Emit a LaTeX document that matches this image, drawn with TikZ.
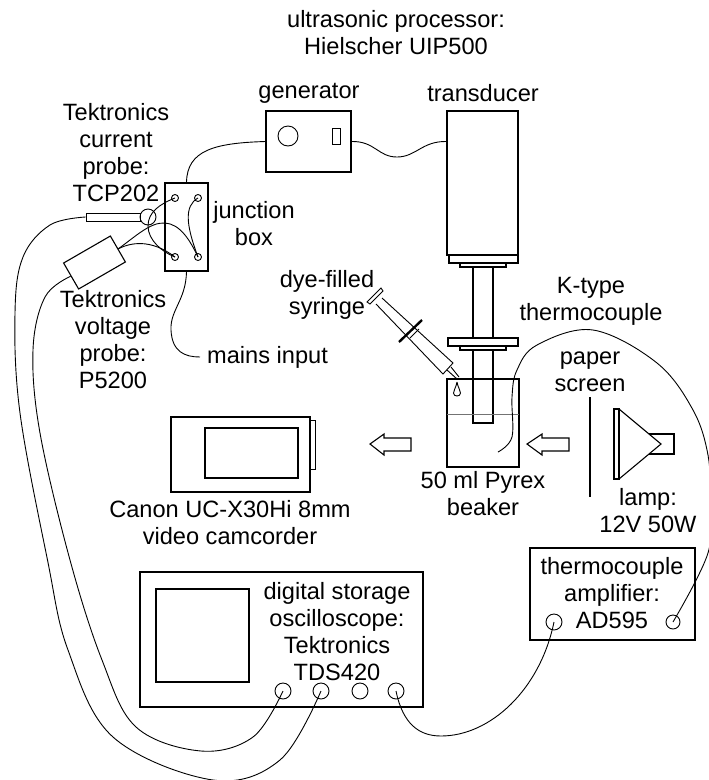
\documentclass[tikz,border=0pt]{standalone}
\usepackage{fontspec}
\setmainfont{Liberation Sans}
\usepackage{xcolor}
\definecolor{waterline}{gray}{0.45}
\tikzset{
	box/.style={draw=black, line width=1.1pt, inner sep=0pt, rectangle},
	port/.style={draw=black, line width=0.9pt, circle, inner sep=0pt, minimum size=16pt},
	terminal/.style={draw=black, line width=0.9pt, circle, inner sep=0pt, minimum size=7pt},
	wire/.style={black, line width=0.9pt},
	part/.style={black, line width=1.1pt},
	lbl/.style={font=\fontsize{23.6}{27}\selectfont, align=center, inner sep=0pt}
}

\begin{document}
\begin{tikzpicture}[x=1pt, y=-1pt]
	\useasboundingbox (0,0) rectangle (709,780);

	% Labels
	\node[lbl] (ultrasonic) at (396,33) {ultrasonic processor:\\Hielscher UIP500};
	\node[lbl] (genlabel) at (309,93) {generator};
	\node[lbl] (translabel) at (483,93) {transducer};
	\node[lbl] (currentlabel) at (116,153) {Tektronics\\current\\probe:\\TCP202};
	\node[lbl] (junctionlabel) at (254,224) {junction\\box};
	\node[lbl] (voltagelabel) at (113,340) {Tektronics\\voltage\\probe:\\P5200};
	\node[lbl] (syringelabel) at (327,295) {dye-filled\\syringe};
	\node[lbl, anchor=west, inner xsep=7pt] (mainslabel) at (200,357) {mains input};
	\node[lbl] (klabel) at (591,301) {K-type\\thermocouple};
	\node[lbl] (screenlabel) at (590,372) {paper\\screen};
	\node[lbl] (lamplabel) at (648,511) {lamp:\\12V 50W};
	\node[lbl] (beakerlabel) at (483,494) {50 ml Pyrex\\beaker};
	\node[lbl] (camlabel) at (230,523) {Canon UC-X30Hi 8mm\\video camcorder};
	\node[lbl] (scopelabel) at (337,632) {digital storage\\oscilloscope:\\Tektronics\\TDS420};
	\node[lbl] (amplabel) at (612,593) {thermocouple\\amplifier:\\AD595};

	% Generator and transducer
	\node[box, minimum width=85pt, minimum height=61pt] (generator) at (308.5,141.5) {};
	\node[port, minimum size=20pt] (knob) at (288,136) {};
	\node[box, line width=0.9pt, minimum width=8pt, minimum height=16pt] (switch) at (336,136) {};
	\node[box, minimum width=71pt, minimum height=144pt] (transducer) at (482.5,183) {};
	\draw[part] (449,255) rectangle (518,263);
	\draw[part] (460,263) rectangle (506,267);

	% Horn and beaker
	\draw[part] (473,267) -- (473,338);
	\draw[part] (493,267) -- (493,338);
	\draw[part] (448,338) rectangle (518,346);
	\draw[part] (460,346) rectangle (506,350);
	\draw[part] (473,350) -- (473,423) -- (493,423) -- (493,350);
	\draw[part] (447,379) rectangle (519,467);
	\draw[waterline, line width=0.8pt] (447,414) -- (519,414);

	% Syringe
	\draw[part, line width=0.9pt] (376,304) -- (443,374) -- (453,363) -- (382,298);
	\draw[part, line width=0.9pt] (367,302) -- (381,288) -- (383,291) -- (370,304) -- cycle;
	\draw[part, line width=2.4pt] (399,342) -- (422,320);
	\draw[part, line width=0.9pt] (410,338) -- (419,329);
	\draw[part, line width=0.9pt] (447,370) -- (457,379);
	\draw[part, line width=0.9pt] (451,367) -- (459,377);
	\draw[part, line width=0.9pt] (457,382) .. controls (456,388) and (453.5,390) .. (453.5,393)
		.. controls (453.5,395) and (455,396) .. (457,396)
		.. controls (459,396) and (460.5,395) .. (460.5,393)
		.. controls (460.5,390) and (458,388) .. (457,382);

	% Arrows
	\draw[part] (370,444) -- (384,434) -- (384,438) -- (411,438) -- (411,451) -- (384,451) -- (384,455) -- cycle;
	\draw[part] (527,444) -- (542,434) -- (542,438) -- (569,438) -- (569,451) -- (542,451) -- (542,455) -- cycle;

	% Paper screen and lamp
	\draw[part] (590,397) -- (590,497);
	\draw[part] (614,409) rectangle (619,479);
	\draw[part] (619,409) -- (661,444) -- (619,479);
	\draw[part] (649,434) -- (674,434) -- (674,454) -- (649,454);

	% Camcorder
	\node[box, minimum width=139pt, minimum height=75pt] (camcorder) at (240.5,454.5) {};
	\draw[part] (205,428) rectangle (298,478);
	\draw[part, line width=0.9pt] (310,420) rectangle (315,469);

	% Oscilloscope
	\node[box, minimum width=283pt, minimum height=135pt] (scope) at (281.5,639.5) {};
	\draw[part] (156,589) rectangle (249,682);
	\node[port] (scopeA) at (283,691) {};
	\node[port] (scopeB) at (321,691) {};
	\node[port] (scopeC) at (360,691) {};
	\node[port] (scopeD) at (396,691) {};

	% Amplifier
	\node[box, minimum width=165pt, minimum height=92pt] (amplifier) at (612.5,594) {};
	\node[port] (ampin) at (554,622) {};
	\node[port, minimum size=14pt] (ampout) at (673,622) {};

	% Junction box and probes
	\node[box, minimum width=43pt, minimum height=88pt] (junction) at (186.5,227) {};
	\node[terminal] (termA) at (175,198) {};
	\node[terminal] (termB) at (198,198) {};
	\node[terminal] (termC) at (175,257) {};
	\node[terminal] (termD) at (198,257) {};
	\node[box, line width=0.9pt, minimum width=54pt, minimum height=8pt] (tcp) at (113,217) {};
	\node[port] (clamp) at (148,217) {};
	\node[box, minimum width=54pt, minimum height=30pt, rotate=30] (vprobe) at (94.5,262.5) {};

	% Cables
	\draw[wire] (generator.west) .. controls (215,143) and (187,150) .. (junction.north);
	\draw[wire] (generator.east) .. controls (375,141) and (378,157) .. (397,157)
		.. controls (416,157) and (422,141) .. (transducer.west |- generator.east);
	\draw[wire] (junction.south) .. controls (186,300) and (170,310) .. (171,330)
		.. controls (172,352) and (185,357) .. (mainslabel.west);
	\draw[wire] (termA.center) .. controls (160,204) and (148,212) .. (148,226)
		.. controls (148,240) and (162,252) .. (termC.center);
	\draw[wire] (termB.center) .. controls (184,206) and (186,225) .. (termD.center);
	\draw[wire] (vprobe.east) .. controls (135,237) and (150,222) .. (165,223)
		.. controls (180,224) and (190,240) .. (termD.center);
	\draw[wire] (vprobe.east) .. controls (130,243) and (150,238) .. (termC.center);
	\draw[wire] plot[smooth, tension=0.6] coordinates {(tcp.west) (50,225) (23,257) (15,313) (20,413) (47.5,560) (68,650) (113,737) (213,780) (280,760) (scopeB.center)};
	\draw[wire] plot[smooth, tension=0.6] coordinates {(vprobe.west) (45,297) (33,350) (40,433) (70,560) (102,660) (136,727) (201,751) (253,737) (scopeA.center)};
	\draw[wire] (scopeD.center) .. controls (403,725) and (420,736) .. (441,736)
		.. controls (490,736) and (540,690) .. (ampin.center);
	\draw[wire] plot[smooth, tension=0.6] coordinates {(498,452) (512,437) (512,397) (517,370) (537,345) (593,330) (657,363) (693,410) (708,455) (710,500) (708,553) (ampout.center)};
\end{tikzpicture}
\end{document}
